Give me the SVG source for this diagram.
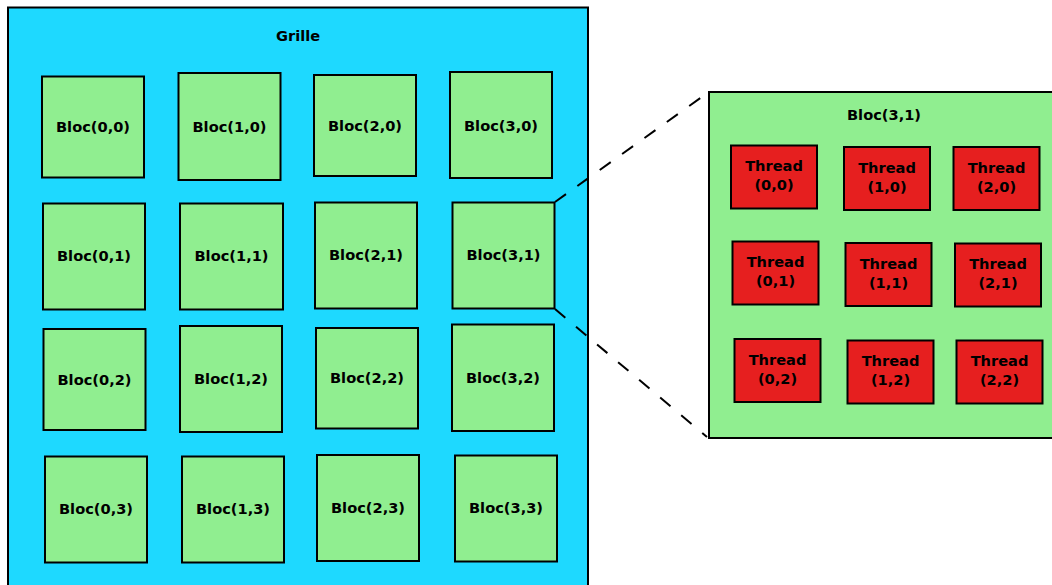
<svg xmlns="http://www.w3.org/2000/svg" width="1052" height="585" viewBox="0 0 1052 585">
<style>
.grid{fill:#1ed9ff;stroke:#000;stroke-width:2}
.bloc{fill:#90ee90;stroke:#000;stroke-width:2}
.thr{fill:#e61f1f;stroke:#000;stroke-width:2}
text{font-family:"DejaVu Sans",sans-serif;font-weight:bold;font-size:14.6px;fill:#000;text-anchor:middle}
.dash{fill:none;stroke:#000;stroke-width:2;stroke-dasharray:13.5,14}
</style>
<rect width="1052" height="585" fill="#fff"/>
<g id="grille">
<rect class="grid" x="8" y="7.5" width="580" height="590"/>
<text x="298" y="41">Grille</text>
</g>
<g id="bloc00"><rect class="bloc" x="42" y="76.5" width="102" height="101"/><text x="93" y="132">Bloc(0,0)</text></g>
<g id="bloc10"><rect class="bloc" x="178.5" y="73" width="102" height="107"/><text x="229.5" y="132">Bloc(1,0)</text></g>
<g id="bloc20"><rect class="bloc" x="314" y="75" width="102" height="101"/><text x="365" y="131">Bloc(2,0)</text></g>
<g id="bloc30"><rect class="bloc" x="450" y="72" width="102" height="106"/><text x="501" y="130.5">Bloc(3,0)</text></g>
<g id="bloc01"><rect class="bloc" x="43" y="203.5" width="102" height="106"/><text x="94" y="261">Bloc(0,1)</text></g>
<g id="bloc11"><rect class="bloc" x="180" y="203.5" width="103" height="106"/><text x="231.5" y="261">Bloc(1,1)</text></g>
<g id="bloc21"><rect class="bloc" x="315" y="202.5" width="102" height="106"/><text x="366" y="260">Bloc(2,1)</text></g>
<g id="bloc31"><rect class="bloc" x="452.5" y="202.5" width="102" height="106"/><text x="503.5" y="260">Bloc(3,1)</text></g>
<g id="bloc02"><rect class="bloc" x="43.5" y="329" width="102" height="101"/><text x="94.5" y="384.5">Bloc(0,2)</text></g>
<g id="bloc12"><rect class="bloc" x="180" y="326" width="102" height="106"/><text x="231" y="384">Bloc(1,2)</text></g>
<g id="bloc22"><rect class="bloc" x="316" y="328" width="102" height="100.5"/><text x="367" y="383">Bloc(2,2)</text></g>
<g id="bloc32"><rect class="bloc" x="452" y="324.5" width="102" height="106.5"/><text x="503" y="383">Bloc(3,2)</text></g>
<g id="bloc03"><rect class="bloc" x="45" y="456.5" width="102" height="106"/><text x="96" y="514">Bloc(0,3)</text></g>
<g id="bloc13"><rect class="bloc" x="182" y="456.5" width="102" height="106"/><text x="233" y="514">Bloc(1,3)</text></g>
<g id="bloc23"><rect class="bloc" x="317" y="455" width="102" height="106"/><text x="368" y="513">Bloc(2,3)</text></g>
<g id="bloc33"><rect class="bloc" x="455" y="455.5" width="102" height="106"/><text x="506" y="513">Bloc(3,3)</text></g>
<g id="connectors">
<line class="dash" x1="555" y1="202" x2="706" y2="94"/>
<line class="dash" x1="555" y1="309" x2="707" y2="437"/>
</g>
<g id="bloc31-detail">
<rect class="bloc" x="709" y="92" width="360" height="346"/>
<text x="884" y="120">Bloc(3,1)</text>
</g>
<g id="t00"><rect class="thr" x="731" y="145.5" width="86" height="63"/><text x="774" y="171">Thread</text><text x="774" y="190">(0,0)</text></g>
<g id="t10"><rect class="thr" x="844" y="147" width="86" height="63"/><text x="887" y="173">Thread</text><text x="887" y="192">(1,0)</text></g>
<g id="t20"><rect class="thr" x="953.5" y="147" width="86" height="63"/><text x="996.5" y="173">Thread</text><text x="996.5" y="192">(2,0)</text></g>
<g id="t01"><rect class="thr" x="732.5" y="241.5" width="86" height="63"/><text x="775.5" y="267">Thread</text><text x="775.5" y="286">(0,1)</text></g>
<g id="t11"><rect class="thr" x="845.5" y="243" width="86" height="63"/><text x="888.5" y="269">Thread</text><text x="888.5" y="288">(1,1)</text></g>
<g id="t21"><rect class="thr" x="955" y="243.5" width="86" height="63"/><text x="998" y="269">Thread</text><text x="998" y="288">(2,1)</text></g>
<g id="t02"><rect class="thr" x="734.5" y="339" width="86" height="63"/><text x="777.5" y="365">Thread</text><text x="777.5" y="384">(0,2)</text></g>
<g id="t12"><rect class="thr" x="847.5" y="340.5" width="86" height="63"/><text x="890.5" y="366">Thread</text><text x="890.5" y="385">(1,2)</text></g>
<g id="t22"><rect class="thr" x="956.5" y="340.5" width="86" height="63"/><text x="999.5" y="366">Thread</text><text x="999.5" y="385">(2,2)</text></g>
</svg>
